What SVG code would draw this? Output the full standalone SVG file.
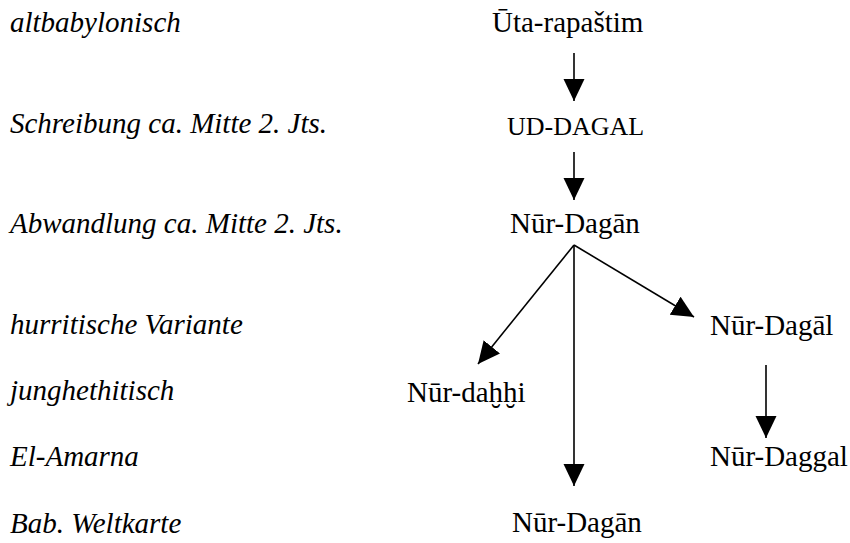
<svg xmlns="http://www.w3.org/2000/svg" width="850" height="543" viewBox="0 0 850 543">
<defs>
<marker id="ah" markerUnits="userSpaceOnUse" markerWidth="24" markerHeight="22" refX="22" refY="10.5" orient="auto">
<path d="M0,0 L22,10.5 L0,21 z" fill="#000"/>
</marker>
<style>
.lab{font-style:italic}
.conn line{stroke:#000;stroke-width:1.6;marker-end:url(#ah)}
</style>
</defs>
<rect width="850" height="543" fill="#fff"/>
<g font-family="Liberation Serif, Times New Roman, serif" font-size="29" fill="#000">
<g id="labels">
<text class="lab" x="10" y="32">altbabylonisch</text>
<text class="lab" x="10" y="133">Schreibung ca. Mitte 2. Jts.</text>
<text class="lab" x="10" y="233">Abwandlung ca. Mitte 2. Jts.</text>
<text class="lab" x="10" y="334">hurritische Variante</text>
<text class="lab" x="10" y="400">junghethitisch</text>
<text class="lab" x="10" y="466">El-Amarna</text>
<text class="lab" x="10" y="533">Bab. Weltkarte</text>
</g>
<g id="n-uta"><text x="492" y="32">Ūta-rapaštim</text></g>
<g id="n-uddagal"><text x="507" y="135" font-size="26">UD-DAGAL</text></g>
<g id="n-nurdagan"><text x="510" y="233">Nūr-Dagān</text></g>
<g id="n-nurdagal"><text x="710" y="335">Nūr-Dagāl</text></g>
<g id="n-nurdahhi"><text x="407" y="402">Nūr-daḫḫi</text></g>
<g id="n-nurdaggal"><text x="710" y="466">Nūr-Daggal</text></g>
<g id="n-nurdagan2"><text x="512" y="532">Nūr-Dagān</text></g>
</g>
<g class="conn" id="connectors">
<line x1="574" y1="53" x2="574" y2="101"/>
<line x1="574" y1="152" x2="574" y2="200"/>
<line x1="574" y1="245" x2="478" y2="364"/>
<line x1="574" y1="245" x2="574" y2="486"/>
<line x1="574" y1="245" x2="694" y2="317"/>
<line x1="766" y1="365" x2="766" y2="438"/>
</g>
</svg>
